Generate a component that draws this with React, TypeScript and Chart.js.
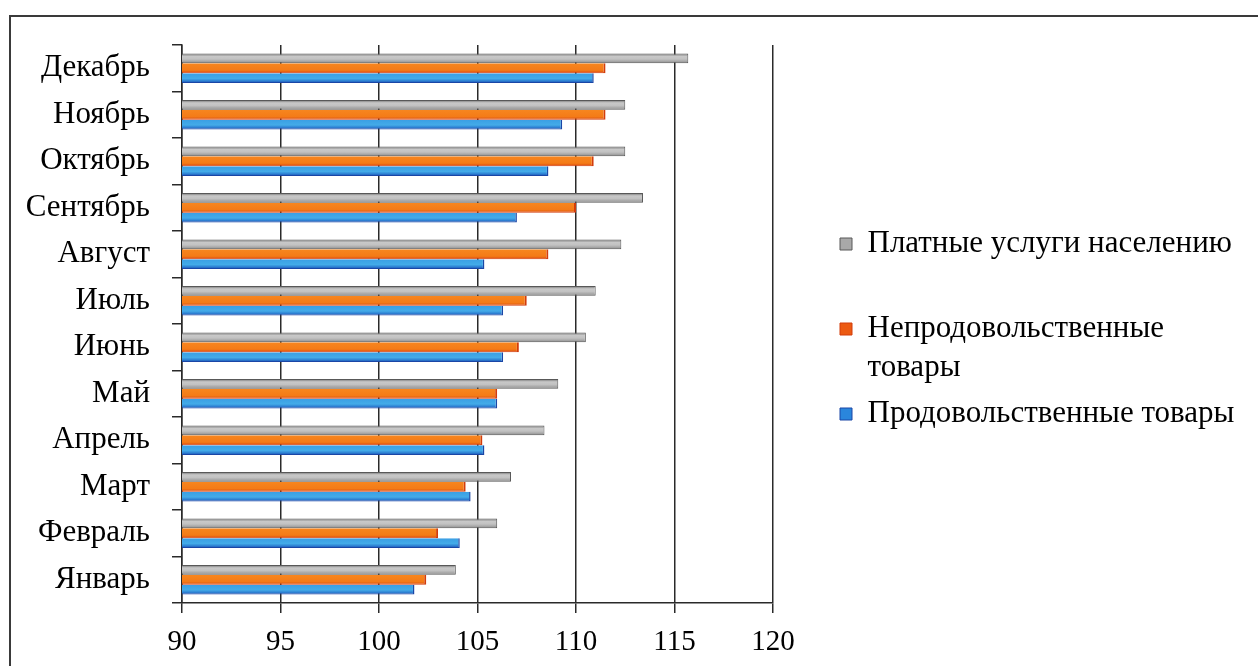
import { useEffect, useRef } from "react";
import { Chart, registerables } from "chart.js";

Chart.register(...registerables);

// ---- Data (top-to-bottom order as shown) ----
const MONTHS = [
  "Декабрь", "Ноябрь", "Октябрь", "Сентябрь", "Август", "Июль",
  "Июнь", "Май", "Апрель", "Март", "Февраль", "Январь",
];
const SERIES_NAMES = [
  "Платные услуги населению",
  "Непродовольственные товары",
  "Продовольственные товары",
];
const PAID_SERVICES = [115.7, 112.5, 112.5, 113.4, 112.3, 111.0, 110.5, 109.1, 108.4, 106.7, 106.0, 103.9];
const NON_FOOD = [111.5, 111.5, 110.9, 110.0, 108.6, 107.5, 107.1, 106.0, 105.25, 104.4, 103.0, 102.4];
const FOOD = [110.9, 109.3, 108.6, 107.0, 105.35, 106.3, 106.3, 106.0, 105.35, 104.65, 104.1, 101.8];
const X_MIN = 90;
const X_MAX = 120;
const X_STEP = 5;
const LEGEND_LINES = [
  ["Платные услуги населению", ""],
  ["Непродовольственные", "товары"],
  ["Продовольственные товары"],
];

// ---- Styles ----
const FONT_FAMILY = "'Liberation Serif', 'Times New Roman', serif";
const TICK_FONT_SIZE = 29;
const TEXT_FONT_SIZE = 31;
const STYLES: { stops: [number, string][]; solid: string; border: string; legendFill: string; borderWidth: any }[] = [
  {
    stops: [[0, "#666666"], [0.14, "#9c9c9c"], [0.28, "#c8c8c8"], [0.55, "#c2c2c2"], [0.8, "#a6a6a6"], [1, "#646464"]],
    solid: "#b8b8b8",
    border: "#585858",
    legendFill: "#a9a9a9",
    borderWidth: 1,
  },
  {
    stops: [[0, "#f7861f"], [0.7, "#f47b17"], [1, "#dc4a0e"]],
    solid: "#f47b17",
    border: "#d23c0b",
    legendFill: "#ec5a12",
    borderWidth: { top: 0, right: 2, bottom: 1, left: 0 },
  },
  {
    stops: [[0, "#3a9ee4"], [0.55, "#43abe8"], [0.82, "#2b7bd0"], [1, "#1a48a8"]],
    solid: "#41a8e6",
    border: "#1a46a6",
    legendFill: "#2a86dc",
    borderWidth: { top: 0, right: 1.5, bottom: 1, left: 0 },
  },
];

Chart.defaults.font.family = FONT_FAMILY;
Chart.defaults.color = "#000";

const gradientPlugin = {
  id: "barGradient",
  beforeDatasetsDraw(chart: any) {
    const ctx = chart.ctx as CanvasRenderingContext2D;
    chart.data.datasets.forEach((_ds: any, di: number) => {
      const meta = chart.getDatasetMeta(di);
      const st = STYLES[di];
      meta.data.forEach((el: any) => {
        const h = el.height;
        const top = el.y - h / 2;
        const g = ctx.createLinearGradient(0, top, 0, top + h);
        st.stops.forEach(([o, c]) => g.addColorStop(o, c));
        try {
          el.options.backgroundColor = g;
        } catch (e) {
          el.options = Object.assign({}, el.options, { backgroundColor: g });
        }
      });
    });
  },
};

const LEGEND_BOX_WIDTH = 425;
const legendWidthPlugin = {
  id: "legendWidth",
  beforeLayout(chart: any) {
    const lg = chart.legend;
    if (lg && !lg.__fixed) {
      const orig = lg.fit.bind(lg);
      lg.fit = function () {
        orig();
        this.width = LEGEND_BOX_WIDTH;
      };
      lg.__fixed = true;
    }
  },
};

export default function App() {
  const ref = useRef<HTMLCanvasElement>(null);

  useEffect(() => {
    const series = [PAID_SERVICES, NON_FOOD, FOOD];
    const chart = new Chart(ref.current as HTMLCanvasElement, {
      type: "bar",
      data: {
        labels: MONTHS,
        datasets: series.map((d, i) => ({
          label: SERIES_NAMES[i],
          data: d,
          backgroundColor: () => STYLES[i].solid,
          borderColor: STYLES[i].border,
          borderWidth: STYLES[i].borderWidth,
          borderSkipped: "start",
          categoryPercentage: 0.63,
          barPercentage: 1,
        })),
      },
      options: {
        indexAxis: "y",
        responsive: false,
        animation: false,
        events: [],
        layout: { padding: 0 },
        scales: {
          x: {
            type: "linear",
            position: "bottom",
            min: X_MIN,
            max: X_MAX,
            ticks: { stepSize: X_STEP, padding: 12, color: "#000", font: { size: TICK_FONT_SIZE } },
            grid: { color: "#2a2a2a", lineWidth: 1.5, tickLength: 10, drawTicks: true },
            border: { display: true, color: "#2a2a2a", width: 1.5 },
            afterFit: (s: any) => {
              s.height = 63;
            },
          },
          y: {
            type: "category",
            position: "left",
            offset: true,
            ticks: { padding: 22, color: "#000", font: { size: TEXT_FONT_SIZE } },
            grid: {
              display: true,
              offset: true,
              drawOnChartArea: false,
              drawTicks: true,
              tickLength: 10,
              color: "#2a2a2a",
              lineWidth: 1.5,
            },
            border: { display: true, color: "#2a2a2a", width: 1.5 },
            afterFit: (s: any) => {
              s.width = 182;
            },
          },
          yGap: {
            type: "category",
            axis: "y",
            position: "right",
            display: true,
            grid: { display: false },
            border: { display: false },
            ticks: { display: false },
            afterFit: (s: any) => {
              s.width = 60;
            },
          },
          xGap: {
            type: "linear",
            axis: "x",
            position: "top",
            display: true,
            grid: { display: false },
            border: { display: false },
            ticks: { display: false },
            afterFit: (s: any) => {
              s.height = 45;
            },
          },
        } as any,
        plugins: {
          tooltip: { enabled: false },
          legend: {
            display: true,
            position: "right",
            align: "center",
            labels: {
              boxWidth: 12,
              boxHeight: 12,
              padding: 7,
              color: "#000",
              font: { size: TEXT_FONT_SIZE, lineHeight: "39px" } as any,
              generateLabels: () =>
                LEGEND_LINES.map((t, i) => ({
                  text: t as any,
                  fillStyle: STYLES[i].legendFill,
                  strokeStyle: STYLES[i].border,
                  lineWidth: 1,
                  hidden: false,
                  datasetIndex: i,
                })),
            },
          },
        },
      },
      plugins: [gradientPlugin, legendWidthPlugin],
    } as any);
    return () => chart.destroy();
  }, []);

  return (
    <div
      style={{
        position: "fixed",
        left: 0,
        top: 0,
        width: 1258,
        height: 666,
        overflow: "hidden",
        background: "#fff",
      }}
    >
      <div
        style={{
          position: "absolute",
          left: 9,
          top: 15,
          width: 1300,
          height: 720,
          border: "2px solid #3a3a3a",
          boxSizing: "border-box",
        }}
      />
      <canvas
        ref={ref}
        width={1258}
        height={666}
        style={{ position: "absolute", left: 0, top: 0, width: 1258, height: 666 }}
      />
    </div>
  );
}
